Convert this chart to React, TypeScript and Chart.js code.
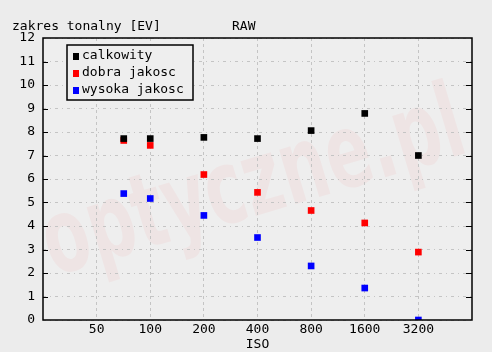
import React, { useEffect, useRef } from "react";
import { Chart, registerables } from "chart.js";

Chart.register(...registerables);

const isoValues = [71, 100, 200, 400, 800, 1600, 3200];
const xTickLabels = [50, 100, 200, 400, 800, 1600, 3200];
const calkowity = [7.72, 7.72, 7.77, 7.72, 8.06, 8.79, 7.0];
const dobraJakosc = [7.64, 7.43, 6.19, 5.43, 4.66, 4.13, 2.89];
const wysokaJakosc = [5.38, 5.17, 4.45, 3.51, 2.3, 1.36, 0.0];
const seriesNames = ["calkowity", "dobra jakosc", "wysoka jakosc"];
const seriesColors = ["#000000", "#ff0000", "#0000ff"];

const FONT = "'DejaVu Sans Mono', monospace";

const decorPlugin = {
  id: "decor",
  beforeDraw(chart: any) {
    const { ctx, chartArea: a } = chart;
    ctx.save();
    ctx.fillStyle = "#ececec";
    ctx.fillRect(0, 0, chart.width, chart.height);
    ctx.fillStyle = "#eeeeee";
    ctx.fillRect(a.left, a.top, a.right - a.left, a.bottom - a.top);
    ctx.beginPath();
    ctx.rect(a.left, a.top, a.right - a.left, a.bottom - a.top);
    ctx.clip();
    // watermark
    ctx.translate(262, 214);
    ctx.rotate(-0.29);
    ctx.scale(0.64, 1);
    ctx.font = "bold 104px 'DejaVu Sans'";
    ctx.textAlign = "center";
    ctx.textBaseline = "alphabetic";
    ctx.shadowColor = "rgba(120,120,120,0.08)";
    ctx.shadowBlur = 6;
    ctx.shadowOffsetX = 4;
    ctx.shadowOffsetY = 4;
    ctx.fillStyle = "rgba(255,0,0,0.04)";
    ctx.fillText("optyczne.pl", 0, 0);
    ctx.restore();
  },
  afterDraw(chart: any) {
    const { ctx, chartArea: a } = chart;
    const ys = chart.scales.y;
    ctx.save();
    ctx.strokeStyle = "#000";
    ctx.lineWidth = 1.5;
    ctx.strokeRect(a.left, a.top, a.right - a.left, a.bottom - a.top);
    // inner ticks on left and right axes
    ctx.lineWidth = 1;
    ctx.beginPath();
    for (let v = 1; v < 12; v++) {
      const y = Math.round(ys.getPixelForValue(v)) + 0.5;
      ctx.moveTo(a.left, y);
      ctx.lineTo(a.left + 5, y);
      ctx.moveTo(a.right, y);
      ctx.lineTo(a.right - 6, y);
    }
    ctx.stroke();
    // titles
    ctx.font = "13px " + FONT;
    ctx.fillStyle = "#000";
    ctx.textBaseline = "middle";
    ctx.textAlign = "left";
    ctx.fillText("zakres tonalny [EV]", 12, 27);
    ctx.fillText("RAW", 232, 27);
    // legend
    const lx = 67, ly = 45, lw = 126, lh = 55;
    ctx.fillStyle = "#eeeeee";
    ctx.fillRect(lx, ly, lw, lh);
    ctx.lineWidth = 1.5;
    ctx.strokeRect(lx, ly, lw, lh);
    seriesNames.forEach((n, i) => {
      const y = 56 + i * 17;
      ctx.fillStyle = seriesColors[i];
      ctx.fillRect(73, y - 3, 6, 7);
      ctx.fillStyle = "#000";
      ctx.fillText(n, 82, y);
    });
    ctx.restore();
  },
};

export default function App() {
  const ref = useRef<HTMLCanvasElement>(null);
  useEffect(() => {
    document.body.style.margin = "0";
    const datasets = [calkowity, dobraJakosc, wysokaJakosc].map((vals, i) => ({
      label: seriesNames[i],
      data: isoValues.map((x, j) => ({ x, y: vals[j] })),
      showLine: false,
      pointStyle: "rect",
      pointRadius: 4.7,
      pointHoverRadius: 4.7,
      pointBorderWidth: 0,
      backgroundColor: seriesColors[i],
      borderColor: seriesColors[i],
    }));
    const chart = new Chart(ref.current!, {
      type: "scatter",
      data: { datasets } as any,
      plugins: [decorPlugin],
      options: {
        animation: false,
        responsive: false,
        layout: { padding: { top: 38, right: 20, left: 0, bottom: 0 } },
        plugins: { legend: { display: false }, tooltip: { enabled: false } },
        scales: {
          x: {
            type: "logarithmic",
            min: 25,
            max: 6400,
            afterBuildTicks: (s: any) => {
              s.ticks = xTickLabels.map((v) => ({ value: v }));
            },
            afterFit: (s: any) => {
              s.height = 32;
            },
            ticks: {
              autoSkip: false,
              maxRotation: 0,
              padding: 2,
              color: "#000",
              font: { family: FONT, size: 13 },
              callback: (v: any) => String(v),
            },
            grid: { color: "#c4c4c4", drawTicks: false, lineWidth: 1 },
            border: { display: false, dash: [3, 3] } as any,
            title: {
              display: true,
              text: "ISO",
              color: "#000",
              font: { family: FONT, size: 13 },
              padding: { top: 0, bottom: 0 },
            },
          },
          y: {
            min: 0,
            max: 12,
            afterFit: (s: any) => {
              s.width = 43;
            },
            ticks: {
              stepSize: 1,
              padding: 8,
              color: "#000",
              font: { family: FONT, size: 13 },
            },
            grid: { color: "#c4c4c4", drawTicks: false, lineWidth: 1 },
            border: { display: false, dash: [3, 4, 1, 4] } as any,
          },
        },
      } as any,
    });
    return () => chart.destroy();
  }, []);
  return <canvas ref={ref} width={492} height={352} style={{ display: "block" }} />;
}
